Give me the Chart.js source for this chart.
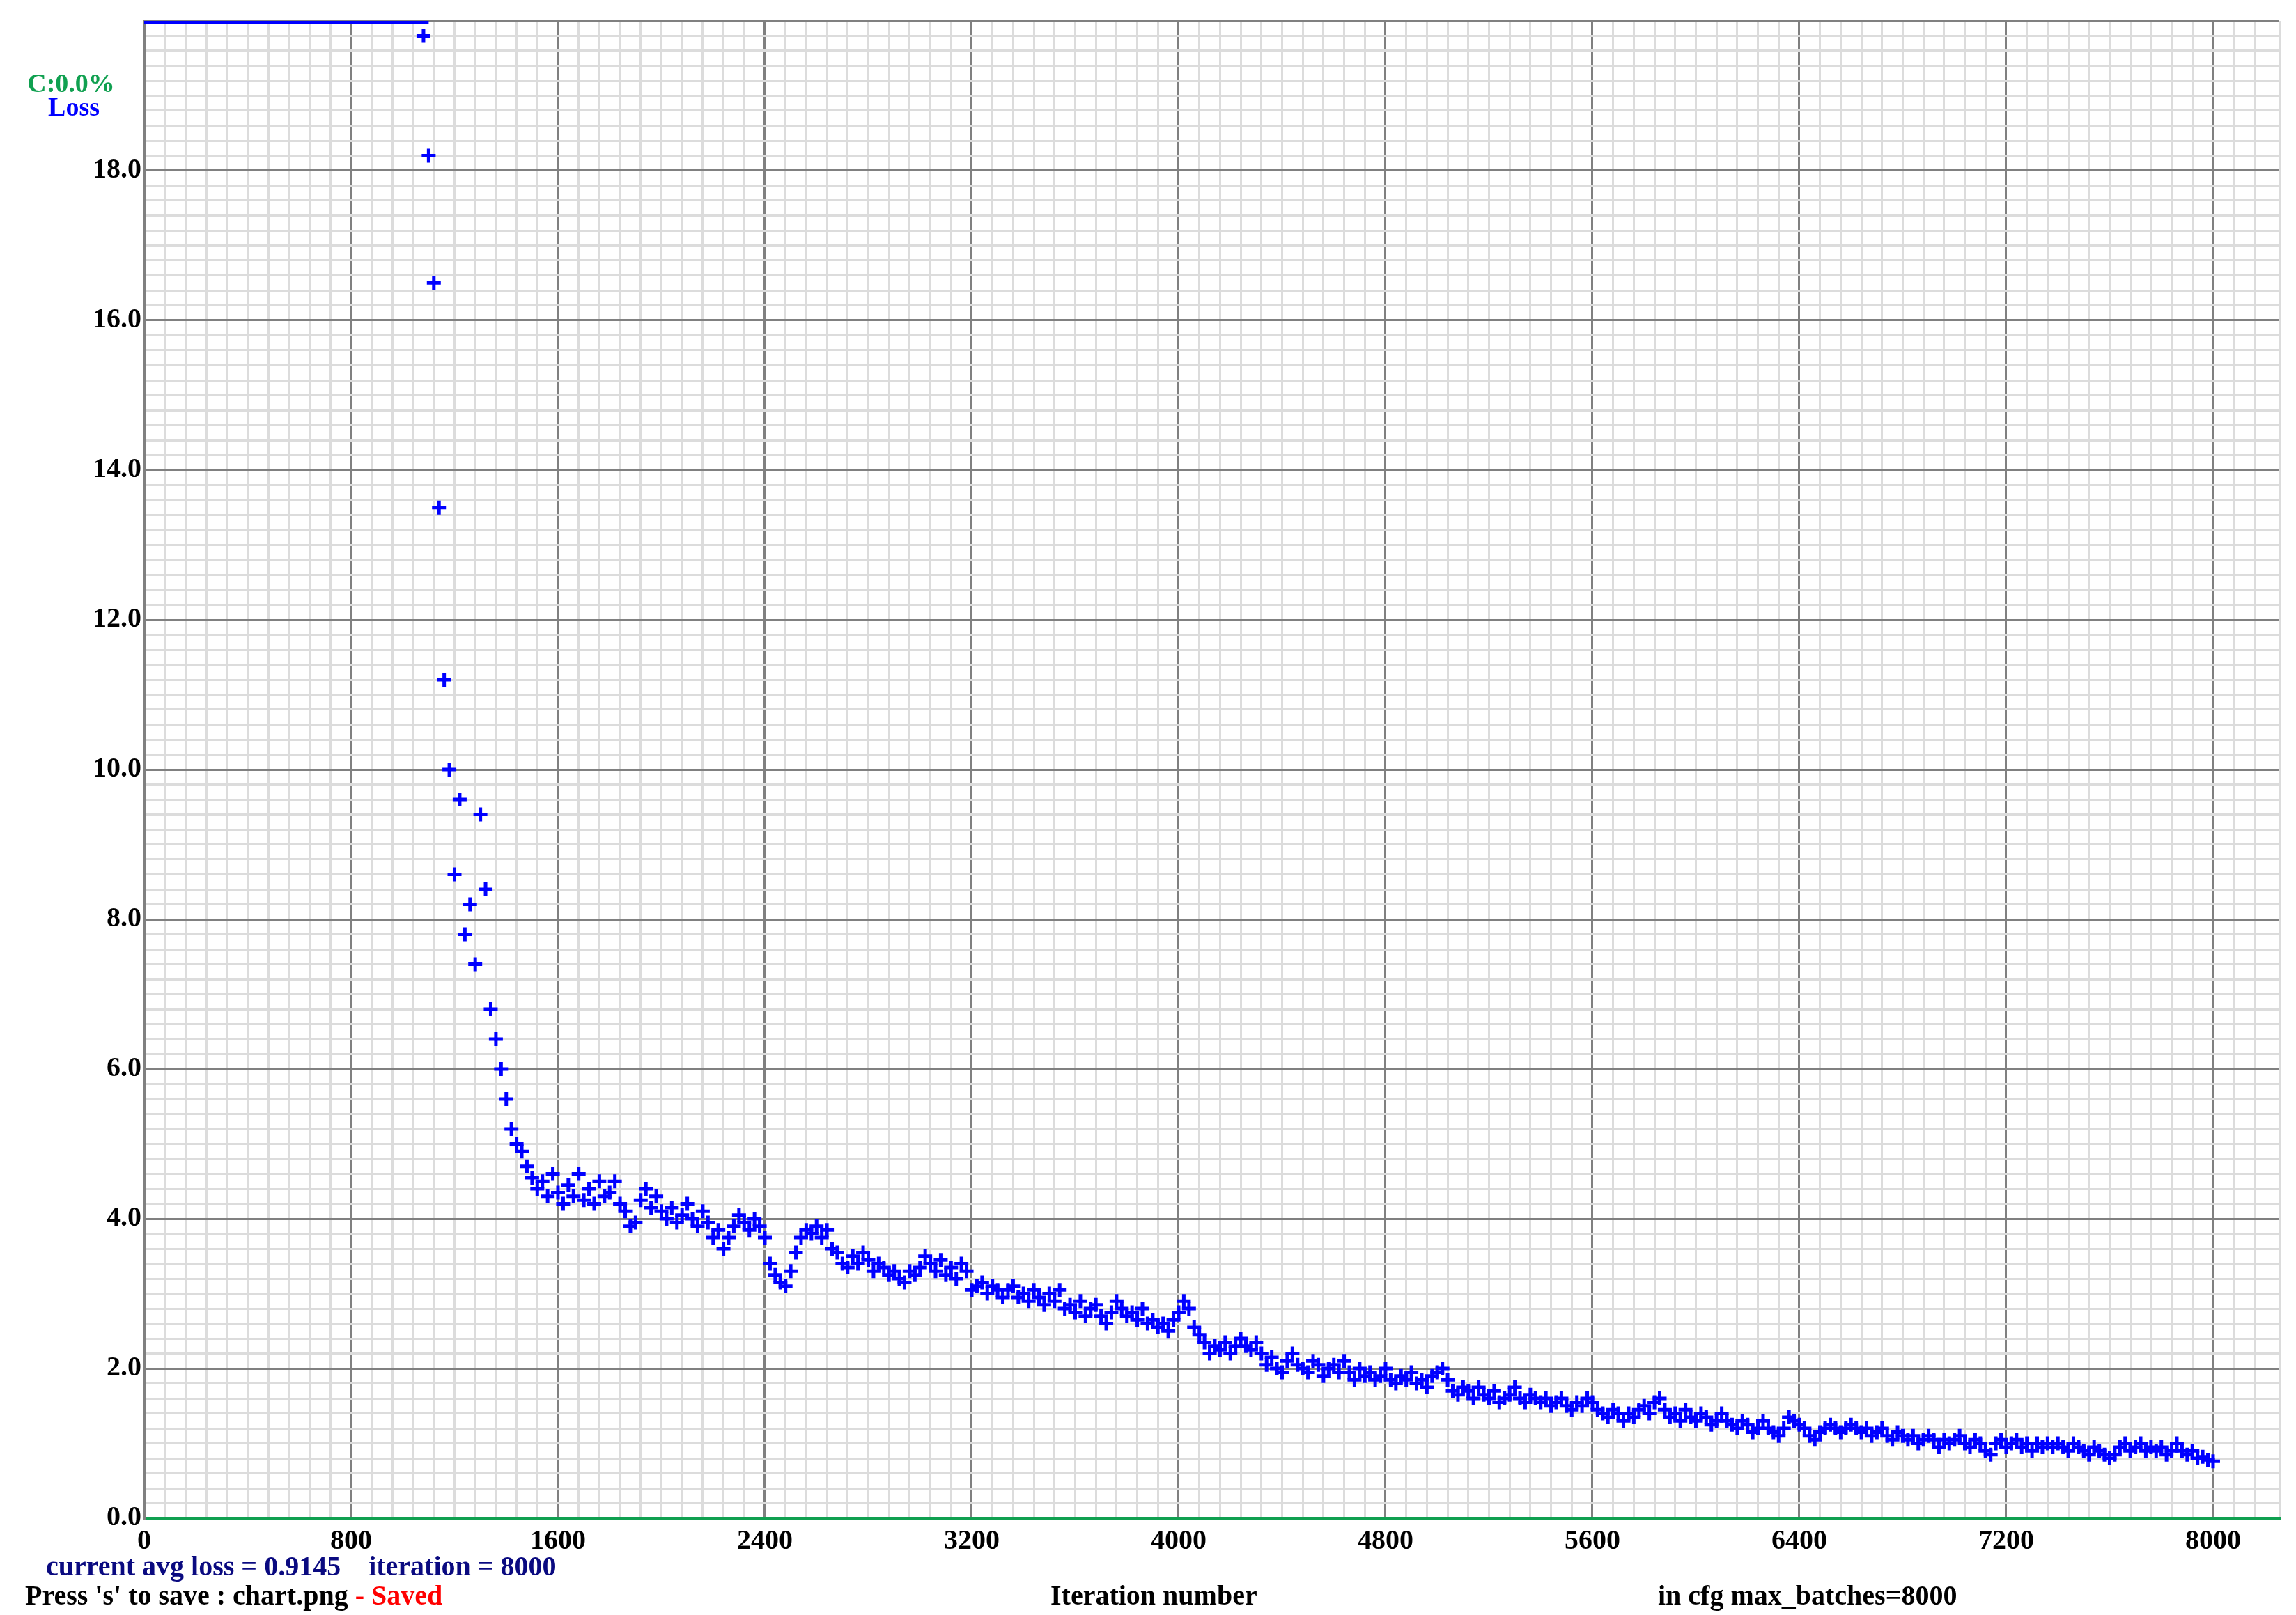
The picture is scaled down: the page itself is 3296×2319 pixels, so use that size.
<!DOCTYPE html>
<html><head><meta charset="utf-8">
<script src="https://cdn.jsdelivr.net/npm/chart.js@4/dist/chart.umd.min.js"></script>
<style>html,body{margin:0;padding:0;background:#fff}#wrap{width:3296px;height:2319px}</style>
</head><body><div id="wrap"><canvas id="c" width="3296" height="2319"></canvas></div>
<script>
const iterStart = 1080, iterStep = 20;
const lossValues = [
19.8,18.2,16.5,13.5,11.2,
10.0,8.6,9.6,7.8,8.2,7.4,9.4,8.4,6.8,6.4,6.0,
5.6,5.2,5.0,4.9,4.7,4.55,4.4,4.5,4.3,4.6,4.35,4.2,4.45,4.3,4.6,4.25,4.4,4.2,4.5,4.3,
4.35,4.5,4.2,4.1,3.9,3.95,4.25,4.4,4.15,4.3,4.1,4.0,4.15,3.95,4.05,4.2,4.0,3.9,4.1,3.95,
3.75,3.85,3.6,3.75,3.9,4.05,3.95,3.85,4.0,3.9,3.75,3.4,3.25,3.15,3.1,3.3,3.55,3.75,3.85,3.8,
3.9,3.75,3.85,3.6,3.55,3.4,3.35,3.5,3.4,3.55,3.45,3.3,3.4,3.35,3.25,3.3,3.2,3.15,3.3,3.25,
3.35,3.5,3.4,3.3,3.45,3.25,3.35,3.2,3.4,3.3,3.05,3.1,3.15,3.0,3.1,3.05,2.95,3.05,3.1,2.95,
3.0,2.9,3.05,2.95,2.85,3.0,2.9,3.05,2.8,2.85,2.75,2.9,2.7,2.8,2.85,2.7,2.6,2.75,2.9,2.8,
2.7,2.75,2.65,2.8,2.6,2.65,2.55,2.6,2.5,2.65,2.75,2.9,2.8,2.55,2.45,2.35,2.2,2.3,2.25,2.35,
2.2,2.3,2.4,2.3,2.25,2.35,2.2,2.05,2.15,2.0,1.95,2.1,2.2,2.05,2.0,1.95,2.1,2.05,1.9,2.0,
2.05,1.95,2.1,1.95,1.85,2.0,1.9,1.95,1.85,1.9,2.0,1.85,1.8,1.9,1.85,1.95,1.8,1.85,1.75,1.9,
1.95,2.0,1.85,1.7,1.65,1.75,1.7,1.6,1.75,1.65,1.6,1.7,1.55,1.6,1.65,1.75,1.6,1.55,1.65,1.6,
1.55,1.6,1.5,1.55,1.6,1.5,1.45,1.55,1.5,1.6,1.55,1.45,1.4,1.35,1.45,1.4,1.3,1.4,1.35,1.45,
1.5,1.4,1.55,1.6,1.45,1.35,1.4,1.3,1.45,1.35,1.3,1.4,1.35,1.25,1.3,1.4,1.3,1.25,1.2,1.3,
1.25,1.15,1.2,1.3,1.2,1.15,1.1,1.2,1.35,1.3,1.25,1.2,1.1,1.05,1.15,1.2,1.25,1.2,1.15,1.2,
1.25,1.2,1.15,1.2,1.1,1.15,1.2,1.1,1.05,1.15,1.1,1.05,1.1,1.0,1.05,1.1,1.05,0.95,1.05,1.0,
1.05,1.1,1.0,0.95,1.05,1.0,0.9,0.85,1.0,1.05,0.95,1.0,1.05,0.95,1.0,0.9,1.0,0.95,1.0,0.95,
1.0,0.95,0.9,1.0,0.95,0.9,0.85,0.95,0.9,0.85,0.8,0.85,0.95,1.0,0.9,0.95,1.0,0.9,0.95,0.9,
0.95,0.85,0.9,1.0,0.9,0.85,0.9,0.8,0.82,0.78,0.76
];
const clampedIters = [0, 1100];
const clampedValues = [20, 20];
const xMax = 8256, yMax = 20;

const pts = lossValues.map((v,i)=>({x: iterStart + i*iterStep, y: v}));
const topPts = clampedIters.map((x,i)=>({x, y: clampedValues[i]}));
const isMult = (v,m)=>Math.abs(v/m - Math.round(v/m)) < 1e-6;
const FONT = '"Liberation Serif", "DejaVu Serif", serif';

const textPlugin = {
  id:'texts',
  afterDraw(chart){
    const ctx = chart.ctx;
    ctx.save();
    ctx.textBaseline = 'alphabetic';
    ctx.font = 'bold 38px ' + FONT;
    ctx.fillStyle = '#10a050'; ctx.textAlign='center';
    ctx.fillText('C:0.0%', 102, 132);
    ctx.fillStyle = '#0000ff';
    ctx.fillText('Loss', 106, 166);
    ctx.textAlign='left';
    ctx.font = 'bold 40px ' + FONT;
    ctx.fillStyle = '#0a0a80';
    ctx.fillText('current avg loss = 0.9145    iteration = 8000', 66, 2262);
    ctx.fillStyle = '#000';
    const s1 = "Press 's' to save : chart.png ";
    ctx.fillText(s1, 36, 2304);
    const w1 = ctx.measureText(s1).width;
    ctx.fillStyle = '#ff0000';
    ctx.fillText('- Saved', 36 + w1, 2304);
    ctx.fillStyle = '#000';
    ctx.fillText('Iteration number', 1508, 2304);
    ctx.fillText('in cfg max_batches=8000', 2380, 2304);
    ctx.restore();
  }
};

new Chart(document.getElementById('c'), {
  type:'scatter',
  data:{datasets:[
    {data: topPts, showLine:true, borderColor:'#0000ff', borderWidth:10, pointRadius:0},
    {data: pts, showLine:false, pointStyle:'cross', pointRadius:10, borderWidth:5,
     borderColor:'#0000ff', backgroundColor:'#0000ff'}
  ]},
  options:{
    responsive:false, animation:false, devicePixelRatio:1,
    layout:{padding:{top:30, right:24, left:0, bottom:0}},
    plugins:{legend:{display:false}, tooltip:{enabled:false}},
    scales:{
      x:{type:'linear', min:0, max:xMax,
        afterFit(s){ s.height = 139; },
        border:{color:'#10a050', width:5},
        grid:{drawTicks:false, lineWidth:3,
          color:c=> (c.tick && isMult(c.tick.value,800)) ? '#808080' : '#dcdcdc'},
        ticks:{stepSize:80, autoSkip:false, maxRotation:0, padding:10,
          color:'#000', font:{family:FONT, size:40, weight:'bold'},
          callback:v=> isMult(v,800) ? String(v) : ''}
      },
      y:{type:'linear', min:0, max:yMax,
        afterFit(s){ s.width = 207; },
        border:{color:'#808080', width:3},
        grid:{drawTicks:false, lineWidth:3,
          color:c=> (c.tick && isMult(c.tick.value,2)) ? '#808080' : '#dcdcdc'},
        ticks:{stepSize:0.2, autoSkip:false, padding:4,
          color:'#000', font:{family:FONT, size:40, weight:'bold'},
          callback:v=> (isMult(v,2) && v < yMax - 1e-6) ? v.toFixed(1) : ''}
      }
    }
  },
  plugins:[textPlugin]
});
</script></body></html>
